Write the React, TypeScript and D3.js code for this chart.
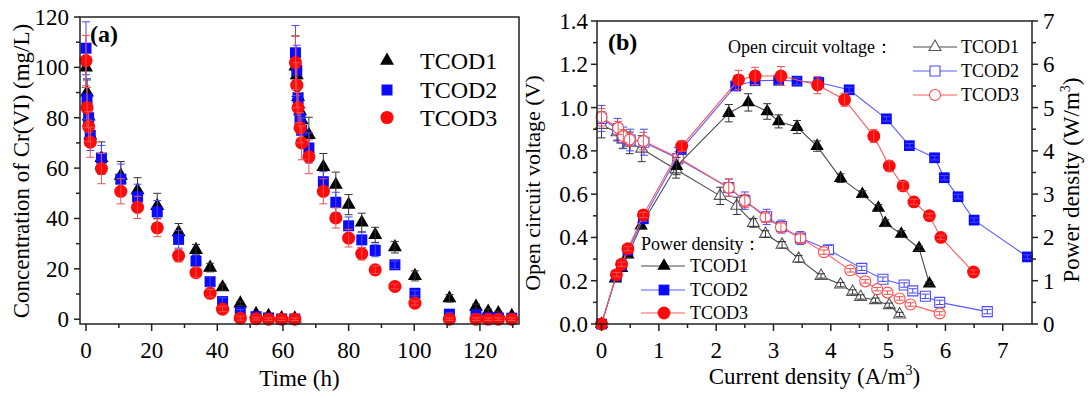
import React from 'react';
import * as d3 from 'd3';

const FONT = "'Liberation Serif', 'DejaVu Serif', serif";

// ---------------- Panel (a): Cr(VI) concentration vs time ----------------
const timeCycle1 = [0, 0.3, 0.8, 1.3, 4.7, 10.6, 15.7, 21.7, 28.2, 33.5, 37.8, 41.6, 47, 51.8, 55.6, 59.6, 63.6];
const crT1c1 = [100, 90, 80.5, 73, 64, 57, 51.2, 45, 34.5, 27.5, 20.5, 12.7, 6.3, 2.1, 1.3, 0.4, 0.3];
const crT2c1 = [107.6, 87.5, 80, 73, 64, 55.6, 48.6, 42.6, 31.7, 23.1, 14.9, 7, 2.8, 1, 0.5, 0.1, 0.1];
const crT3c1 = [102.7, 84, 76.5, 70.3, 59.8, 50.8, 44.4, 36.3, 25.2, 18.5, 10.3, 4, 0.4, 0.2, 0, 0, 0];
const errT1c1 = [8, 5, 4, 4, 6.4, 5.6, 5, 5, 3.5, 2.2, 1.7, 1.2, 0.8, 0.6, 0.5, 0.4, 0.4];
const errT2c1 = [10.5, 8, 6, 6, 5, 6, 5, 4.5, 3.5, 2.5, 2, 1.5, 1, 0.5, 0.5, 0.4, 0.4];
const errT3c1 = [10, 8, 6, 6, 6, 5, 4.4, 3.5, 2.5, 2, 1.5, 1, 0.8, 0.5, 0.5, 0.5, 0.5];

const timeCycle2 = [63.8, 64.2, 64.6, 65.2, 65.7, 67.9, 72.3, 76.1, 80, 84, 88.1, 94.1, 100.2, 110.7, 118.8, 122.5, 125.6, 129.7];
const crT1c2 = [100.4, 96.9, 88.3, 82.6, 79, 73.2, 60.5, 53.4, 45.5, 38.4, 33.5, 28.6, 17.2, 8.3, 5, 3, 2.4, 1.3];
const crT2c2 = [105.8, 98.8, 88, 79.7, 75, 68, 54.6, 46.4, 37.1, 31.5, 27.3, 21.6, 10.3, 2, 1.7, 0.6, 0.5, 0.4];
const crT3c2 = [101.9, 92.9, 84, 76, 70, 64.5, 50.8, 40.2, 32.2, 26, 19.6, 13, 6.4, 0, 0, 0, 0, 0];
const errT1c2 = [12, 8, 6, 5, 5, 7, 5.3, 5, 4, 3.7, 3, 2.3, 2, 1.5, 1, 1, 0.8, 0.6];
const errT2c2 = [10.8, 10, 7, 6, 5, 6, 4, 4, 3.5, 3, 2.5, 1.5, 1, 0.5, 0.5, 0.5, 0.5, 0.5];
const errT3c2 = [10.7, 9, 6, 6, 6.7, 6.7, 5, 4, 3.5, 2.5, 1.5, 1, 0.8, 0.5, 0.5, 0.5, 0.5, 0.5];

const timeTicksMajor = [0, 20, 40, 60, 80, 100, 120];
const timeTicksMinor = [10, 30, 50, 70, 90, 110, 130];
const concTicksMajor = [0, 20, 40, 60, 80, 100, 120];
const concTicksMinor = [10, 30, 50, 70, 90, 110];

// ---------------- Panel (b): polarization & power curves ----------------
const powI1 = [0, 0.24, 0.35, 0.46, 0.69, 1.31, 2.22, 2.56, 2.89, 3.09, 3.41, 3.76, 4.17, 4.55, 4.83, 4.95, 5.23, 5.54, 5.72];
const powP1 = [0, 1.05, 1.29, 1.6, 2.27, 3.65, 4.87, 5.12, 4.91, 4.68, 4.55, 4.11, 3.37, 3.0, 2.68, 2.33, 2.08, 1.75, 0.93];
const powE1 = [0, 0.05, 0.05, 0.07, 0.08, 0.2, 0.2, 0.2, 0.18, 0.15, 0.15, 0.12, 0.1, 0.08, 0.08, 0.08, 0.08, 0.05, 0.05];

const powI2 = [0, 0.26, 0.35, 0.46, 0.73, 1.39, 2.34, 2.68, 3.09, 3.41, 3.79, 4.32, 4.97, 5.37, 5.81, 5.98, 6.22, 6.5, 7.43];
const powP2 = [0, 1.11, 1.35, 1.7, 2.43, 4.03, 5.5, 5.62, 5.63, 5.61, 5.58, 5.41, 4.74, 4.12, 3.84, 3.38, 2.94, 2.4, 1.55];
const powE2 = [0, 0.05, 0.05, 0.05, 0.06, 0.1, 0.1, 0.1, 0.1, 0.08, 0.08, 0.06, 0.05, 0.05, 0.05, 0.05, 0.05, 0.05, 0.05];

const powI3 = [0, 0.26, 0.35, 0.46, 0.73, 1.4, 2.39, 2.68, 3.13, 3.77, 4.24, 4.75, 5.02, 5.26, 5.45, 5.72, 5.92, 6.49];
const powP3 = [0, 1.14, 1.38, 1.74, 2.52, 4.11, 5.64, 5.73, 5.73, 5.52, 5.18, 4.34, 3.65, 3.19, 2.82, 2.5, 2.0, 1.2];
const powE3 = [0, 0.05, 0.05, 0.05, 0.06, 0.12, 0.22, 0.2, 0.22, 0.2, 0.15, 0.15, 0.12, 0.1, 0.06, 0.05, 0.05, 0.05];

const ocvI1 = [0, 0.27, 0.37, 0.49, 0.7, 1.3, 2.07, 2.36, 2.65, 2.86, 3.15, 3.44, 3.83, 4.17, 4.38, 4.52, 4.78, 5.02, 5.2];
const ocvV1 = [0.92, 0.886, 0.852, 0.837, 0.81, 0.714, 0.592, 0.546, 0.467, 0.416, 0.366, 0.301, 0.222, 0.182, 0.148, 0.125, 0.11, 0.087, 0.044];
const ocvE1 = [0.06, 0.04, 0.04, 0.05, 0.06, 0.04, 0.04, 0.04, 0.02, 0.015, 0.015, 0.015, 0.01, 0.01, 0.01, 0.01, 0.01, 0.01, 0.01];

const ocvI2 = [0, 0.28, 0.38, 0.5, 0.74, 1.33, 2.22, 2.5, 2.88, 3.14, 3.47, 3.96, 4.54, 4.91, 5.28, 5.43, 5.65, 5.9, 6.73];
const ocvV2 = [0.95, 0.9, 0.86, 0.85, 0.84, 0.765, 0.63, 0.57, 0.495, 0.45, 0.397, 0.343, 0.257, 0.207, 0.18, 0.153, 0.128, 0.1, 0.057];
const ocvE2 = [0.06, 0.05, 0.05, 0.05, 0.06, 0.05, 0.04, 0.04, 0.035, 0.03, 0.03, 0.02, 0.01, 0.01, 0.01, 0.01, 0.01, 0.01, 0.01];

const ocvI3 = [0, 0.29, 0.38, 0.49, 0.73, 1.34, 2.22, 2.5, 2.86, 3.13, 3.47, 3.88, 4.34, 4.6, 4.81, 4.99, 5.2, 5.39, 5.9];
const ocvV3 = [0.955, 0.906, 0.868, 0.852, 0.845, 0.768, 0.63, 0.569, 0.493, 0.447, 0.396, 0.332, 0.248, 0.197, 0.161, 0.145, 0.118, 0.09, 0.049];
const ocvE3 = [0.04, 0.03, 0.03, 0.03, 0.04, 0.03, 0.04, 0.03, 0.02, 0.02, 0.02, 0.01, 0.008, 0.008, 0.008, 0.008, 0.008, 0.008, 0.008];

const currTicksMajor = [0, 1, 2, 3, 4, 5, 6, 7];
const currTicksMinor = [0.5, 1.5, 2.5, 3.5, 4.5, 5.5, 6.5];
const voltTicksMajor = [0, 0.2, 0.4, 0.6, 0.8, 1.0, 1.2, 1.4];
const voltTicksMinor = [0.1, 0.3, 0.5, 0.7, 0.9, 1.1, 1.3];
const powTicksMajor = [0, 1, 2, 3, 4, 5, 6, 7];
const powTicksMinor = [0.5, 1.5, 2.5, 3.5, 4.5, 5.5, 6.5];

const seriesNames = ['TCOD1', 'TCOD2', 'TCOD3'];

// ---------------- styles ----------------
const markerColor = ['#000000', '#0a0aff', '#ff0a0a'];
const lineColor = ['#4a4a4a', '#5a5aff', '#ff5a5a'];
const errColor = ['#333333', '#4a4af0', '#f05050'];
const openColor = ['#555555', '#4b4bff', '#ff4b4b'];
const symTypes = [d3.symbolTriangle, d3.symbolSquare, d3.symbolCircle];
const filledSize = [85, 121, 135];
const filledSizeB = [78, 115, 130];
const openSize = [62, 100, 95];

const sym = (i: number, size: number) => d3.symbol().type(symTypes[i]).size(size)() as string;

function ErrBars({ xs, ys, es, sx, sy, color, cap = 4 }: any) {
  return (
    <g stroke={color} strokeWidth={1} fill="none">
      {xs.map((x: number, k: number) => {
        if (ys[k] == null || !es[k]) return null;
        const cx = sx(x);
        const y0 = sy(ys[k] - es[k]);
        const y1 = sy(ys[k] + es[k]);
        return (
          <g key={k}>
            <line x1={cx} x2={cx} y1={y0} y2={y1} />
            <line x1={cx - cap} x2={cx + cap} y1={y0} y2={y0} />
            <line x1={cx - cap} x2={cx + cap} y1={y1} y2={y1} />
          </g>
        );
      })}
    </g>
  );
}

function Markers({ xs, ys, sx, sy, i, size, fill, stroke, sw = 0 }: any) {
  const d = sym(i, size);
  return (
    <g>
      {xs.map((x: number, k: number) =>
        ys[k] == null ? null : (
          <path key={k} d={d} transform={`translate(${sx(x)},${sy(ys[k])})`} fill={fill} stroke={stroke} strokeWidth={sw} />
        )
      )}
    </g>
  );
}

function PanelA() {
  const L = 80, R = 519, T = 17, B = 324;
  const sx = d3.scaleLinear().domain([-1.83, 131.9]).range([L, R]);
  const sy = d3.scaleLinear().domain([-1.9, 120]).range([B, T]);
  const c1 = [crT1c1, crT2c1, crT3c1];
  const c2 = [crT1c2, crT2c2, crT3c2];
  const e1 = [errT1c1, errT2c1, errT3c1];
  const e2 = [errT1c2, errT2c2, errT3c2];
  return (
    <g style={{ fontFamily: FONT }} fill="#000">
      {[0, 1, 2].map((i) => (
        <g key={i}>
          <Markers xs={timeCycle1} ys={c1[i]} sx={sx} sy={sy} i={i} size={filledSize[i]} fill={markerColor[i]} stroke="none" />
          <Markers xs={timeCycle2} ys={c2[i]} sx={sx} sy={sy} i={i} size={filledSize[i]} fill={markerColor[i]} stroke="none" />
          <ErrBars xs={timeCycle1} ys={c1[i]} es={e1[i]} sx={sx} sy={sy} color={errColor[i]} />
          <ErrBars xs={timeCycle2} ys={c2[i]} es={e2[i]} sx={sx} sy={sy} color={errColor[i]} />
        </g>
      ))}
      <rect x={L} y={T} width={R - L} height={B - T} fill="none" stroke="#222" strokeWidth={1.5} />
      <g stroke="#222" strokeWidth={1.5}>
        {timeTicksMajor.map((t) => <line key={'xm' + t} x1={sx(t)} x2={sx(t)} y1={B} y2={B + 7} />)}
        {timeTicksMinor.map((t) => <line key={'xn' + t} x1={sx(t)} x2={sx(t)} y1={B} y2={B + 4} />)}
        {concTicksMajor.map((t) => <line key={'ym' + t} x1={L} x2={L - 6} y1={sy(t)} y2={sy(t)} />)}
        {concTicksMinor.map((t) => <line key={'yn' + t} x1={L} x2={L - 4} y1={sy(t)} y2={sy(t)} />)}
      </g>
      <g fontSize={23}>
        {timeTicksMajor.map((t) => (
          <text key={'xl' + t} x={sx(t)} y={358} textAnchor="middle">{t}</text>
        ))}
        {concTicksMajor.map((t) => (
          <text key={'yl' + t} x={69} y={sy(t) + 8} textAnchor="end">{t}</text>
        ))}
      </g>
      <text x={(L + R) / 2} y={386} fontSize={23} textAnchor="middle">Time (h)</text>
      <text transform={`translate(29,171) rotate(-90)`} fontSize={23} textAnchor="middle">Concentration of Cr(VI) (mg/L)</text>
      <text x={90} y={42} fontSize={24} fontWeight="bold">(a)</text>
      {[0, 1, 2].map((i) => {
        const cy = [60.7, 90, 117.5][i];
        return (
          <g key={'lg' + i}>
            <path d={sym(i, filledSize[i])} transform={`translate(387,${cy})`} fill={markerColor[i]} />
            <text x={420} y={cy + 8} fontSize={24}>{seriesNames[i]}</text>
          </g>
        );
      })}
    </g>
  );
}

function PanelB() {
  const L = 597, R = 1032, T = 21, B = 324;
  const sx = d3.scaleLinear().domain([-0.079, 7.51]).range([L, R]);
  const sv = d3.scaleLinear().domain([0, 1.4]).range([B, T]);
  const sp = d3.scaleLinear().domain([0, 7]).range([B, T]);
  const pI = [powI1, powI2, powI3];
  const pP = [powP1, powP2, powP3];
  const pE = [powE1, powE2, powE3];
  const oI = [ocvI1, ocvI2, ocvI3];
  const oV = [ocvV1, ocvV2, ocvV3];
  const oE = [ocvE1, ocvE2, ocvE3];
  const lineGen = (xs: number[], ys: number[], syS: any) =>
    d3.line<number>().x((_, k) => sx(xs[k])).y((v) => syS(v))(ys) as string;
  return (
    <g style={{ fontFamily: FONT }} fill="#000">
      {[0, 1, 2].map((i) => (
        <g key={'o' + i}>
          <path d={lineGen(oI[i], oV[i], sv)} fill="none" stroke={lineColor[i]} strokeWidth={1.1} />
          <Markers xs={oI[i]} ys={oV[i]} sx={sx} sy={sv} i={i} size={openSize[i]} fill="#fff" stroke={openColor[i]} sw={1.1} />
          <ErrBars xs={oI[i]} ys={oV[i]} es={oE[i]} sx={sx} sy={sv} color={errColor[i]} cap={4} />
        </g>
      ))}
      {[0, 1, 2].map((i) => (
        <g key={'p' + i}>
          <path d={lineGen(pI[i], pP[i], sp)} fill="none" stroke={lineColor[i]} strokeWidth={1.1} />
          <Markers xs={pI[i]} ys={pP[i]} sx={sx} sy={sp} i={i} size={filledSizeB[i]} fill={markerColor[i]} stroke="none" />
          <ErrBars xs={pI[i]} ys={pP[i]} es={pE[i]} sx={sx} sy={sp} color={errColor[i]} cap={4} />
        </g>
      ))}
      <rect x={L} y={T} width={R - L} height={B - T} fill="none" stroke="#222" strokeWidth={1.5} />
      <g stroke="#222" strokeWidth={1.5}>
        {currTicksMajor.map((t) => <line key={'xm' + t} x1={sx(t)} x2={sx(t)} y1={B} y2={B + 7} />)}
        {currTicksMinor.map((t) => <line key={'xn' + t} x1={sx(t)} x2={sx(t)} y1={B} y2={B + 4} />)}
        {voltTicksMajor.map((t) => <line key={'ym' + t} x1={L} x2={L - 6} y1={sv(t)} y2={sv(t)} />)}
        {voltTicksMinor.map((t) => <line key={'yn' + t} x1={L} x2={L - 4} y1={sv(t)} y2={sv(t)} />)}
        {powTicksMajor.map((t) => <line key={'pm' + t} x1={R} x2={R + 6} y1={sp(t)} y2={sp(t)} />)}
        {powTicksMinor.map((t) => <line key={'pn' + t} x1={R} x2={R + 4} y1={sp(t)} y2={sp(t)} />)}
      </g>
      <g fontSize={23}>
        {currTicksMajor.map((t) => (
          <text key={'xl' + t} x={sx(t)} y={358} textAnchor="middle">{t}</text>
        ))}
        {voltTicksMajor.map((t) => (
          <text key={'yl' + t} x={588} y={sv(t) + 8} textAnchor="end">{t.toFixed(1)}</text>
        ))}
        {powTicksMajor.map((t) => (
          <text key={'pl' + t} x={1043} y={sp(t) + 8} textAnchor="start">{t}</text>
        ))}
      </g>
      <text x={(L + R) / 2} y={384} fontSize={23} textAnchor="middle">
        Current density (A/m<tspan dy={-9} fontSize={14}>3</tspan><tspan dy={9}>)</tspan>
      </text>
      <text transform={`translate(540,183) rotate(-90)`} fontSize={22} textAnchor="middle">Open circuit voltage (V)</text>
      <text transform={`translate(1079,180) rotate(-90)`} fontSize={23} textAnchor="middle">
        Power density (W/m<tspan dy={-9} fontSize={14}>3</tspan><tspan dy={9}>)</tspan>
      </text>
      <text x={608} y={50} fontSize={24} fontWeight="bold">(b)</text>
      <text x={728} y={53} fontSize={18}>Open circuit voltage：</text>
      {[0, 1, 2].map((i) => {
        const cy = [47, 71, 95][i];
        return (
          <g key={'lo' + i}>
            <line x1={913} x2={957} y1={cy} y2={cy} stroke={lineColor[i]} strokeWidth={1.1} />
            <path d={sym(i, openSize[i])} transform={`translate(935,${cy})`} fill="#fff" stroke={openColor[i]} strokeWidth={1.1} />
            <text x={961} y={cy + 6} fontSize={18}>{seriesNames[i]}</text>
          </g>
        );
      })}
      <text x={641} y={250} fontSize={18}>Power density：</text>
      {[0, 1, 2].map((i) => {
        const cy = [266, 290, 313][i];
        return (
          <g key={'lp' + i}>
            <line x1={641} x2={685} y1={cy} y2={cy} stroke={lineColor[i]} strokeWidth={1.1} />
            <path d={sym(i, filledSizeB[i])} transform={`translate(664,${cy})`} fill={markerColor[i]} />
            <text x={690} y={cy + 6} fontSize={18}>{seriesNames[i]}</text>
          </g>
        );
      })}
    </g>
  );
}

export default function App() {
  return (
    <svg width={1091} height={398} style={{ position: 'absolute', left: 0, top: 0, background: '#fff', fontFamily: FONT }}>
      <rect x={0} y={0} width={1091} height={398} fill="#fff" />
      <PanelA />
      <PanelB />
    </svg>
  );
}
